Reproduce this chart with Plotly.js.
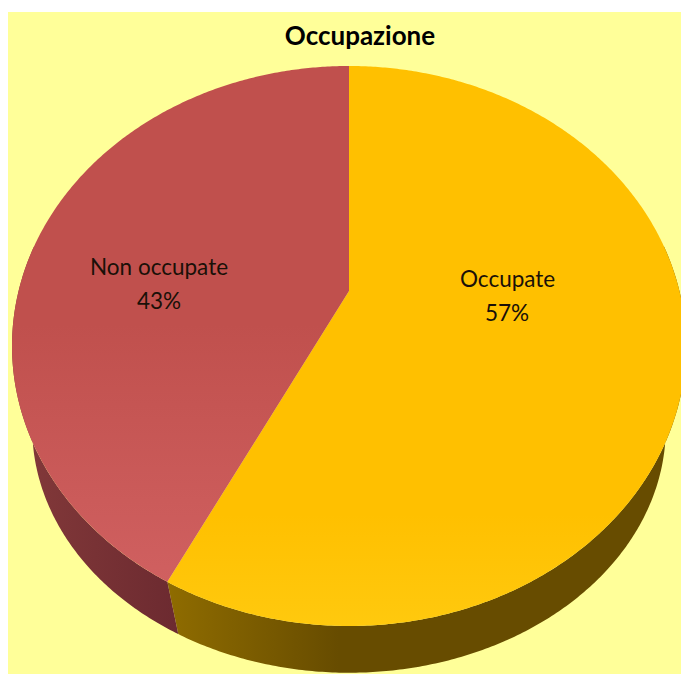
<!DOCTYPE html>
<html><head><meta charset="utf-8">
<script src="https://cdn.plot.ly/plotly-3.0.1.min.js"></script>
<style>html,body{margin:0;padding:0;background:#fff}</style></head>
<body><div id="chart" style="width:681px;height:674px"></div>
<script>
const chartTitle = "Occupazione";
const categories = ["Occupate", "Non occupate"];
const values = [57.49, 42.51];
const topColors = [
  [[0, "#ffc90e"], [0.2, "#ffc000"], [1, "#ffc000"]],
  [[0, "#d06060"], [0.5, "#c0504d"], [1, "#c0504d"]]
];
const wallColors = [
  [[0, "#8f6c00"], [0.33, "#674c00"], [1, "#674c00"]],
  [[0, "#843a3a"], [1, "#6c2a30"]]
];
const labelSpots = [[507, 278], [159, 266]];

// Projective view of a tilted disc: unit circle -> page position
const cx = 349, apexY = 291, topY = 66, botY = 626, halfW = 337;
const c = (2 * apexY - topY - botY) / (botY - topY);
const a = botY * (1 + c) - apexY;
const d = halfW * Math.sqrt(1 - c * c);
function rim(deg) {
  const t = deg * Math.PI / 180, u = Math.sin(t), v = -Math.cos(t), w = 1 + c * v;
  return [cx + d * u / w, (a * v + apexY) / w];
}
function lowerRim(deg) {
  const p = rim(deg);
  return [cx + (p[0] - cx) * 0.94, p[1] * 0.875 + 125];
}
function arc(fn, from, to) {
  const n = Math.max(2, Math.ceil(Math.abs(to - from) * 2)), out = [];
  for (let i = 0; i <= n; i++) out.push(fn(from + (to - from) * i / n));
  return out;
}
const total = values.reduce((s, v) => s + v, 0);
let acc = 0;
const slices = values.map(v => {
  const s = { from: acc / total * 360, to: (acc + v) / total * 360 };
  acc += v;
  return s;
});
function poly(pts, scale, type, name) {
  return {
    type: "scatter", mode: "none", fill: "toself", name: name, hoverinfo: "skip", showlegend: false,
    x: pts.map(p => p[0]), y: pts.map(p => p[1]),
    fillgradient: { type: type, colorscale: scale }
  };
}
const walls = slices.map((s, i) => {
  const f = Math.max(s.from, 80), t = Math.min(s.to, 280);
  const pts = arc(rim, f, t).concat(arc(lowerRim, t, f));
  pts.push(pts[0]);
  return poly(pts, wallColors[i], "horizontal", categories[i]);
});
const tops = slices.map((s, i) => {
  const apex = [cx, apexY];
  const pts = [apex].concat(arc(rim, s.from, s.to), [apex]);
  return poly(pts, topColors[i], "vertical", categories[i]);
});
const labelFont = { family: "Lato, 'Open Sans', sans-serif", size: 22.5, color: "#1a1008" };
const notes = categories.flatMap((name, i) => [
  { x: labelSpots[i][0], y: labelSpots[i][1], xref: "x", yref: "y", text: name, showarrow: false, font: labelFont },
  { x: labelSpots[i][0], y: labelSpots[i][1] + 34, xref: "x", yref: "y", text: Math.round(values[i]) + "%", showarrow: false, font: labelFont }
]);
Plotly.newPlot("chart", walls.concat(tops), {
  width: 681, height: 674,
  margin: { l: 8, t: 12, r: 0, b: 0 },
  paper_bgcolor: "#ffffff", plot_bgcolor: "#ffff99",
  title: { text: "<b>" + chartTitle + "</b>", xref: "container", yref: "container", x: 360 / 681, y: 1 - 36 / 674,
           xanchor: "center", yanchor: "middle",
           font: { family: "Lato, 'Open Sans', sans-serif", size: 26, color: "#000000" } },
  xaxis: { range: [8, 681], visible: false, fixedrange: true },
  yaxis: { range: [674, 12], visible: false, fixedrange: true },
  annotations: notes,
  showlegend: false
}, { displayModeBar: false, staticPlot: true });
</script></body></html>
